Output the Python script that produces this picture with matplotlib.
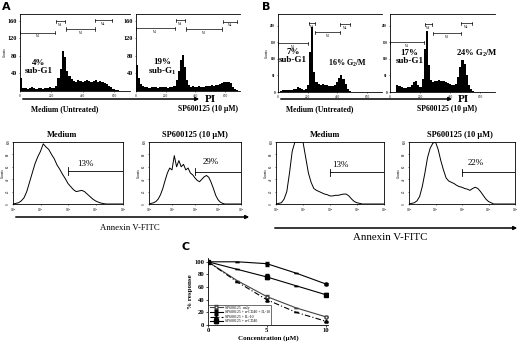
import matplotlib
matplotlib.use("Agg")
import matplotlib.pyplot as plt
import numpy as np

W, H = 520, 344
plt.rcParams["font.family"] = ["Liberation Serif", "DejaVu Serif"]
plt.rcParams["mathtext.fontset"] = "custom"
plt.rcParams["mathtext.rm"] = "Liberation Serif:bold"
plt.rcParams["mathtext.it"] = "Liberation Serif:italic:bold"
plt.rcParams["mathtext.default"] = "rm"

# ---- PI histograms: counts in 50 bins over channels 0-700
pi_edges = np.linspace(0, 700, 51)
a_medium = [30, 6, 7, 5, 6, 8, 6, 5, 7, 6, 5, 7, 6, 8, 6, 7,
            12, 30, 50, 92, 78, 45, 33, 27,
            23, 21, 24, 22, 20, 23, 25, 22, 21, 23, 24, 21, 22, 20,
            19, 16, 12, 8, 5, 3, 2, 0, 0, 0, 0, 0]
a_sp = [58, 30, 15, 11, 8, 9, 7, 8, 9, 8, 7, 9, 8, 8, 9, 7, 8, 9,
        12, 25, 45, 70, 82, 55, 25, 14,
        10, 11, 9, 10, 11, 10, 10, 12, 11, 12, 13, 12, 13,
        14, 16, 18, 20, 21, 20, 18, 10, 4, 2, 0]
b_medium = [0, 2, 5, 6, 5, 7, 6, 8, 9, 14, 12, 8, 7, 8, 22, 120, 197, 60, 30,
            25, 22, 23, 20, 21, 18, 19, 17,
            22, 30, 42, 52, 40, 25, 10, 3,
            0, 0, 0, 0, 0, 0, 0, 0, 0, 0, 0, 0, 0, 0, 0]
b_sp = [0, 0, 0, 22, 18, 14, 12, 13, 14, 16, 22, 30, 32, 22, 15, 40, 130, 185, 80, 35, 30,
        32, 34, 35, 34, 33, 30, 28, 25,
        22, 20, 25, 45, 75, 95, 85, 50, 20, 8, 2,
        0, 0, 0, 0, 0, 0, 0, 0, 0, 0]

# marker gates M1-M4 (start, end, height)
gate_names = ["M1", "M2", "M3", "M4"]
a_medium_lo = [0, 229, 293, 477]
a_medium_hi = [223, 286, 477, 585]
a_medium_y = [132, 159, 141, 161]
a_sp_lo = [0, 269, 336, 585]
a_sp_hi = [262, 330, 579, 680]
a_sp_y = [143, 161, 141, 157]
b_medium_lo = [0, 209, 249, 417]
b_medium_hi = [202, 249, 417, 485]
b_medium_y = [147, 207, 180, 204]
b_sp_lo = [0, 233, 287, 473]
b_sp_hi = [227, 280, 473, 547]
b_sp_y = [150, 204, 177, 207]

# ---- Annexin V-FITC histograms (% of max), log10 channel 0..4 step 0.1
annexin_log = np.linspace(0, 4, 41)
ann_a_medium = [0, 1, 2, 5, 10, 20, 35, 50, 65, 76, 85, 97, 92, 88, 80, 73, 63, 56, 48, 41,
                33, 28, 23, 20, 21, 22, 20, 16, 12, 8, 5, 3, 1.5, 0.5, 0, 0, 0, 0, 0, 0, 0]
ann_a_sp = [0, 1, 2, 4, 8, 15, 25, 38, 50, 58, 55, 78, 60, 70, 60, 64, 55, 58, 50, 47,
            42, 38, 36, 40, 44, 46, 43, 35, 25, 14, 7, 3, 1, 0, 0, 0, 0, 0, 0, 0, 0]
ann_b_medium = [0, 1, 2, 8, 20, 50, 85, 100, 100, 100, 100, 75, 50, 35, 25, 22, 20, 18, 16, 15,
                13, 13, 14, 14, 15, 16, 16, 13, 8, 4, 2, 1, 0, 0, 0, 0, 0, 0, 0, 0, 0]
ann_b_sp = [0, 1, 2, 5, 12, 28, 50, 75, 90, 98, 100, 88, 70, 55, 42, 37, 35, 33, 30, 28,
            27, 25, 24, 22, 25, 27, 25, 20, 14, 8, 4, 2, 0, 0, 0, 0, 0, 0, 0, 0, 0]
ann_pct = ["13%", "29%", "13%", "22%"]
ann_gate_y = [53, 52, 51, 51]
ann_text_pos = [(2.65, 65), (2.7, 68), (2.4, 63), (2.5, 66)]

# ---- panel C dose response
conc = [0, 2.5, 5, 7.5, 10]
sp_only = [100, 70, 45, 27, 13]
sp_cd40_il10 = [100, 100, 97, 82, 65]
sp_il10 = [100, 68, 40, 20, 6]
sp_cd40 = [100, 88, 76, 62, 48]
err_cd40_il10 = [0, 0, 3, 0, 2]
err_cd40 = [0, 0, 4, 0, 2]
err_small = [0, 0, 2, 0, 1]


def fx(px):
    return px / W


def fy(py):
    return 1 - py / H


def px_axes(l, t, r, b):
    return fig.add_axes([l / W, 1 - b / H, (r - l) / W, (b - t) / H])


def arrow(x0, x1, y):
    fig.add_artist(matplotlib.patches.FancyArrowPatch(
        (fx(x0), fy(y)), (fx(x1), fy(y)), transform=fig.transFigure,
        arrowstyle="-|>", mutation_scale=5, lw=1.1, color="black"))


def pi_hist(ax, vals, lo, hi, gy, ymax, yticks, ylab_size):
    ax.stairs(vals, pi_edges, fill=True, color="black", lw=0)
    ax.set_xlim(0, 700)
    ax.set_ylim(0, ymax)
    ax.spines["right"].set_visible(False)
    for s in ["left", "top", "bottom"]:
        ax.spines[s].set_linewidth(0.6)
    ax.set_xticks([0, 200, 400, 600])
    ax.set_xticklabels(["0", "200", "400", "600"], fontsize=2.5)
    ax.set_yticks(yticks)
    ax.tick_params(length=1, width=0.4, pad=1)
    ax.tick_params(axis="y", labelsize=ylab_size)
    for lab in ax.get_yticklabels():
        lab.set_fontweight("bold")
    for name, a, b, y in zip(gate_names, lo, hi, gy):
        ax.plot([a, b], [y, y], color="black", lw=0.5)
        d = ymax * 0.02
        ax.plot([a, a], [y - d, y + d], color="black", lw=0.5)
        ax.plot([b, b], [y - d, y + d], color="black", lw=0.5)
        ax.text((a + b) / 2, y - d, name, fontsize=2.2, ha="center", va="top")


def ann_hist(ax, vals, i):
    ax.plot(10 ** annexin_log, vals, color="black", lw=0.7)
    ax.set_xscale("log")
    ax.set_xlim(1, 1e4)
    ax.set_ylim(0, 100)
    ax.set_xticks([1, 10, 100, 1000, 10000])
    ax.set_xticklabels(["10$^0$", "10$^1$", "10$^2$", "10$^3$", "10$^4$"], fontsize=2.5)
    ax.minorticks_off()
    ax.set_yticks([0, 20, 40, 60, 80, 100])
    ax.set_yticklabels(["0", "20", "40", "60", "80", "100"], fontsize=2.3, rotation=90, va="center")
    ax.set_ylabel("Counts", fontsize=2.5, labelpad=1)
    ax.tick_params(length=1, width=0.4, pad=1)
    for s in ax.spines.values():
        s.set_linewidth(0.6)
    ax.plot([100, 10000], [ann_gate_y[i]] * 2, color="black", lw=0.6)
    ax.plot([100, 100], [ann_gate_y[i] - 6, ann_gate_y[i] + 6], color="black", lw=0.6)
    tx, ty = ann_text_pos[i]
    ax.text(10 ** tx, ty, ann_pct[i], fontsize=6.5, ha="center", va="center")


fig = plt.figure(figsize=(W / 100, H / 100), dpi=100)
fig.patch.set_facecolor("white")

# ---- panel A
fig.text(fx(2), fy(2), "A", fontsize=8, fontweight="bold", family="DejaVu Sans", va="top")
axA1 = px_axes(20, 14, 130, 91)
pi_hist(axA1, a_medium, a_medium_lo, a_medium_hi, a_medium_y, 175, [40, 80, 120, 160], 4.5)
axA1.set_ylabel("Counts", fontsize=2.5, labelpad=1)
axA1.text(121, 54, "4%\nsub-G1", fontsize=6.5, fontweight="bold", ha="center", va="center", linespacing=1.0)
axA2 = px_axes(136, 14, 240, 91)
pi_hist(axA2, a_sp, a_sp_lo, a_sp_hi, a_sp_y, 175, [40, 80, 120, 160], 4.5)
axA2.text(175, 54, "19%\nsub-G$_1$", fontsize=6.5, fontweight="bold", ha="center", va="center", linespacing=1.0)
arrow(20, 202, 99)
fig.text(fx(205), fy(99), "PI", fontsize=8, fontweight="bold", va="center")
fig.text(fx(65), fy(109), "Medium (Untreated)", fontsize=5.5, fontweight="bold", ha="center", va="center")
fig.text(fx(208), fy(109), "SP600125 (10 µM)", fontsize=5.5, fontweight="bold", ha="center", va="center")

# ---- panel B
fig.text(fx(262), fy(2), "B", fontsize=8, fontweight="bold", family="DejaVu Sans", va="top")
axB1 = px_axes(278, 14, 382, 92)
pi_hist(axB1, b_medium, b_medium_lo, b_medium_hi, b_medium_y, 235, [0, 50, 100, 150, 200], 2.3)
axB1.set_ylabel("Counts", fontsize=2.5, labelpad=1)
axB1.text(100, 108, "7%\nsub-G1", fontsize=6.5, fontweight="bold", ha="center", va="center", linespacing=1.0)
axB1.text(464, 87, "16% G$_2$/M", fontsize=5.8, fontweight="bold", ha="center", va="center")
axB2 = px_axes(390, 14, 495, 92)
pi_hist(axB2, b_sp, b_sp_lo, b_sp_hi, b_sp_y, 235, [0, 50, 100, 150, 200], 2.3)
axB2.text(130, 105, "17%\nsub-G1", fontsize=6.5, fontweight="bold", ha="center", va="center", linespacing=1.0)
axB2.text(580, 117, "24% G$_2$/M", fontsize=6.2, fontweight="bold", ha="center", va="center")
arrow(278, 455, 99)
fig.text(fx(458), fy(99), "PI", fontsize=8, fontweight="bold", va="center")
fig.text(fx(320), fy(109), "Medium (Untreated)", fontsize=5.5, fontweight="bold", ha="center", va="center")
fig.text(fx(447), fy(109), "SP600125 (10 µM)", fontsize=5.5, fontweight="bold", ha="center", va="center")

# ---- Annexin row
ann_axes = [px_axes(13, 142, 123, 204), px_axes(149, 142, 241, 204),
            px_axes(276, 142, 384, 204), px_axes(409, 142, 515, 204)]
for i, (ax, vals) in enumerate(zip(ann_axes, [ann_a_medium, ann_a_sp, ann_b_medium, ann_b_sp])):
    ann_hist(ax, vals, i)
for x, t in [(62, "Medium"), (195, "SP600125 (10 µM)"), (325, "Medium"), (460, "SP600125 (10 µM)")]:
    fig.text(fx(x), fy(135), t, fontsize=6, fontweight="bold", ha="center", va="center")
arrow(13, 252, 217)
fig.text(fx(130), fy(228), "Annexin V-FITC", fontsize=6.3, ha="center", va="center")
arrow(272, 520, 228)
fig.text(fx(390), fy(238), "Annexin V-FITC", fontsize=7.8, ha="center", va="center")

# ---- panel C
fig.text(fx(181), fy(242), "C", fontsize=8, fontweight="bold", family="DejaVu Sans", va="top")
axC = px_axes(208, 258, 328, 325)
mk = dict(markevery=[0, 2, 4], markersize=2.2, lw=0.8, capsize=1.2, elinewidth=0.5)
axC.errorbar(conc, sp_only, yerr=err_small, color="#444444", marker="o", mfc="white", ls="-",
             label="SP600125  only", **mk)
axC.errorbar(conc, sp_cd40_il10, yerr=err_cd40_il10, color="black", marker="o", ls="-",
             label="SP600125 + α-CD40 + IL-10", **mk)
axC.errorbar(conc, sp_il10, yerr=err_small, color="black", marker="^", ls=(0, (5, 2, 1, 2)),
             label="SP600125 + IL-10", **mk)
axC.errorbar(conc, sp_cd40, yerr=err_cd40, color="black", marker="s", ls="-",
             label="SP600125 + α-CD40", **mk)
axC.set_xlim(0, 10.2)
axC.set_ylim(0, 106)
axC.set_xticks([0, 5, 10])
axC.set_yticks([0, 20, 40, 60, 80, 100])
axC.tick_params(labelsize=4.8, length=1.5, width=0.5, pad=1)
for lab in axC.get_xticklabels() + axC.get_yticklabels():
    lab.set_fontweight("bold")
for s in ["top", "right"]:
    axC.spines[s].set_visible(False)
for s in ["left", "bottom"]:
    axC.spines[s].set_linewidth(0.6)
axC.set_ylabel("% response", fontsize=5, fontweight="bold", labelpad=1)
axC.set_xlabel("Concentration (µM)", fontsize=5, fontweight="bold", labelpad=1)
leg = axC.legend(loc="lower left", fontsize=2.8, frameon=True, fancybox=False, handlelength=3.5,
                 borderpad=0.3, labelspacing=0.15, borderaxespad=0.1, handletextpad=0.4)
leg.get_frame().set_edgecolor("black")
leg.get_frame().set_linewidth(0.5)

plt.savefig("out.png", dpi=100)
